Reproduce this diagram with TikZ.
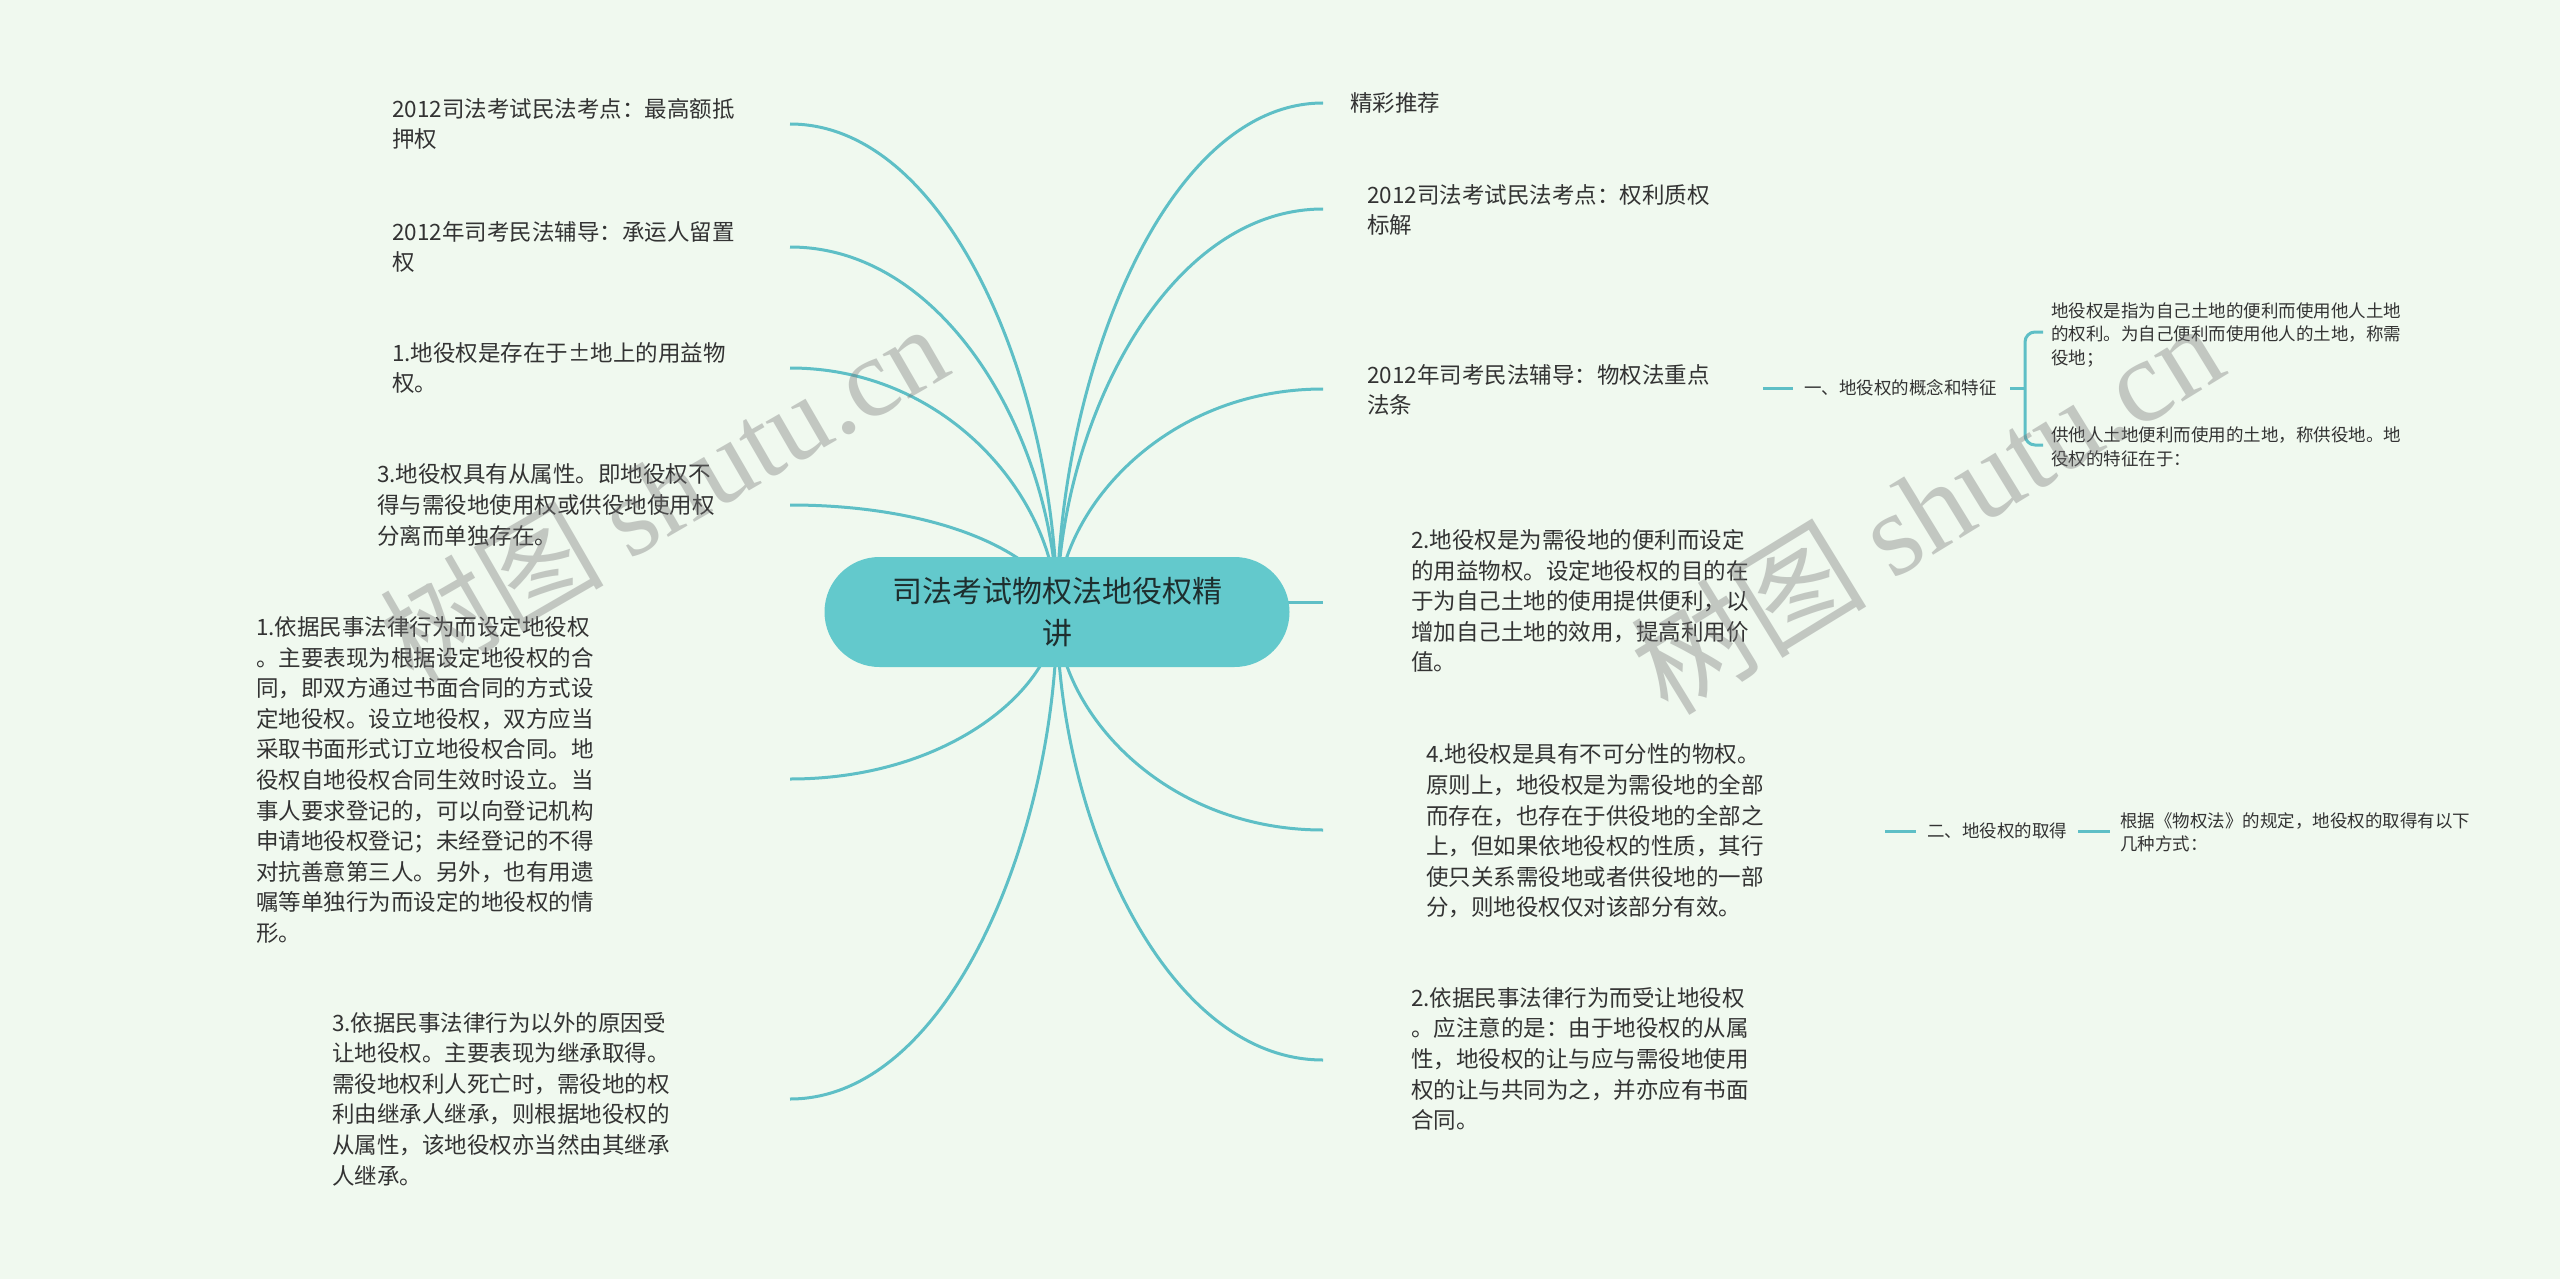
\documentclass[tikz,border=0pt]{standalone}
\usepackage{fontspec}
\setmainfont{Noto Sans CJK SC}
\newfontfamily\cjkwm{Noto Sans CJK SC}
\newfontfamily\latwm{Liberation Serif}
\definecolor{bgc}{HTML}{F0F9EF}
\definecolor{linec}{HTML}{5EBFC6}
\definecolor{rootfill}{HTML}{63C9CC}
\definecolor{txtc}{HTML}{333333}
\definecolor{roottxt}{HTML}{1E2E2E}
\definecolor{wmc}{HTML}{787878}
\tikzset{
  txt/.style={anchor=west, align=left, inner sep=0pt, text=txtc, font=\fontsize{22.5}{30.6}\selectfont},
  smalltxt/.style={anchor=west, align=left, inner sep=0pt, text=txtc, font=\fontsize{17.5}{23.3}\selectfont},
  conn/.style={draw=linec, line width=3pt},
  root/.style={rectangle, rounded corners=55pt, fill=rootfill, minimum width=465pt, minimum height=110pt, align=center, inner sep=0pt, text=roottxt, font=\fontsize{30}{41.7}\selectfont},
  wm/.style={inner sep=0pt, text=wmc, text opacity=0.38}
}
\begin{document}
\begin{tikzpicture}[x=1pt,y=-1pt]
\fill[bgc] (0,0) rectangle (2560,1279);
\useasboundingbox (0,0) rectangle (2560,1279);

% connector end points
\coordinate (cc) at (1057,612);
\coordinate (e1) at (790,124);
\coordinate (e2) at (790,247);
\coordinate (e3) at (790,368);
\coordinate (e4) at (790,505);
\coordinate (e5) at (790,779);
\coordinate (e6) at (790,1099);
\coordinate (f1) at (1323,103);
\coordinate (f2) at (1323,209);
\coordinate (f3) at (1323,389);
\coordinate (f4) at (1323,602);
\coordinate (f4s) at (1200,602);
\coordinate (f5) at (1323,830);
\coordinate (f6) at (1323,1060);

% main connectors
\draw[conn] (cc) .. controls (1057,392) and (950,124) .. (e1);
\draw[conn] (cc) .. controls (1057,448) and (950,247) .. (e2);
\draw[conn] (cc) .. controls (1057,502) and (950,368) .. (e3);
\draw[conn] (cc) .. controls (1057,564) and (955,505) .. (e4);
\draw[conn] (cc) .. controls (1057,687) and (950,779) .. (e5);
\draw[conn] (cc) .. controls (1057,831) and (950,1099) .. (e6);
\draw[conn] (cc) .. controls (1057,383) and (1163,103) .. (f1);
\draw[conn] (cc) .. controls (1057,431) and (1163,209) .. (f2);
\draw[conn] (cc) .. controls (1057,512) and (1163,389) .. (f3);
\draw[conn] (f4s) -- (f4);
\draw[conn] (cc) .. controls (1057,710) and (1163,830) .. (f5);
\draw[conn] (cc) .. controls (1057,814) and (1163,1060) .. (f6);

% central topic
\node[root] (c) at (cc) {司法考试物权法地役权精\\讲};

% left topics
\node[txt] (t1) at (392,124) {2012司法考试民法考点：最高额抵\\押权};
\node[txt] (t2) at (392,247) {2012年司考民法辅导：承运人留置\\权};
\node[txt] (t3) at (392,368) {1.地役权是存在于±地上的用益物\\权。};
\node[txt] (t4) at (377,505) {3.地役权具有从属性。即地役权不\\得与需役地使用权或供役地使用权\\分离而单独存在。};
\node[txt] (t5) at (256,780) {1.依据民事法律行为而设定地役权\\。主要表现为根据设定地役权的合\\同，即双方通过书面合同的方式设\\定地役权。设立地役权，双方应当\\采取书面形式订立地役权合同。地\\役权自地役权合同生效时设立。当\\事人要求登记的，可以向登记机构\\申请地役权登记；未经登记的不得\\对抗善意第三人。另外，也有用遗\\嘱等单独行为而设定的地役权的情\\形。};
\node[txt] (t6) at (332,1099) {3.依据民事法律行为以外的原因受\\让地役权。主要表现为继承取得。\\需役地权利人死亡时，需役地的权\\利由继承人继承，则根据地役权的\\从属性，该地役权亦当然由其继承\\人继承。};

% right topics
\node[txt] (r1) at (1350,103) {精彩推荐};
\node[txt] (r2) at (1367,210) {2012司法考试民法考点：权利质权\\标解};
\node[txt] (r3) at (1367,390) {2012年司考民法辅导：物权法重点\\法条};
\node[txt] (r4) at (1411,601) {2.地役权是为需役地的便利而设定\\的用益物权。设定地役权的目的在\\于为自己土地的使用提供便利，以\\增加自己土地的效用，提高利用价\\值。};
\node[txt] (r5) at (1426,831) {4.地役权是具有不可分性的物权。\\原则上，地役权是为需役地的全部\\而存在，也存在于供役地的全部之\\上，但如果依地役权的性质，其行\\使只关系需役地或者供役地的一部\\分，则地役权仅对该部分有效。};
\node[txt] (r6) at (1411,1059) {2.依据民事法律行为而受让地役权\\。应注意的是：由于地役权的从属\\性，地役权的让与应与需役地使用\\权的让与共同为之，并亦应有书面\\合同。};

% sub topic 1
\coordinate (s1in) at (1763,388);
\node[smalltxt] (s1) at (1804,388) {一、地役权的概念和特征};
\coordinate (s1out) at (2010,388);
\coordinate (br) at (2025,388);
\node[smalltxt] (s1a) at (2051,335) {地役权是指为自己土地的便利而使用他人土地\\的权利。为自己便利而使用他人的土地，称需\\役地；};
\node[smalltxt] (s1b) at (2051,447) {供他人土地便利而使用的土地，称供役地。地\\役权的特征在于：};
\coordinate (b1) at (2043,332);
\coordinate (b2) at (2043,445);
\draw[conn] (s1in) -- ([xshift=-11pt]s1.west);
\draw[conn] (s1out) -- (br);
\draw[conn, rounded corners=10pt] (b1) -- (2025,332) -- (2025,445) -- (b2);

% sub topic 2
\coordinate (s2in) at (1885,831);
\node[smalltxt] (s2) at (1927,831) {二、地役权的取得};
\coordinate (s2out) at (2078,831);
\coordinate (s2end) at (2110,831);
\node[smalltxt] (s2a) at (2120,832) {根据《物权法》的规定，地役权的取得有以下\\几种方式：};
\draw[conn] (s2in) -- ([xshift=-11pt]s2.west);
\draw[conn] (s2out) -- (s2end);

% watermarks
\node[wm, rotate=30, font=\fontsize{112}{112}\selectfont] (w1) at (663,492) {{\cjkwm 树图} {\latwm shutu.cn}};
\node[wm, rotate=31.5, font=\fontsize{118}{118}\selectfont] (w2) at (1926,507) {{\cjkwm 树图} {\latwm shutu.cn}};
\end{tikzpicture}
\end{document}
